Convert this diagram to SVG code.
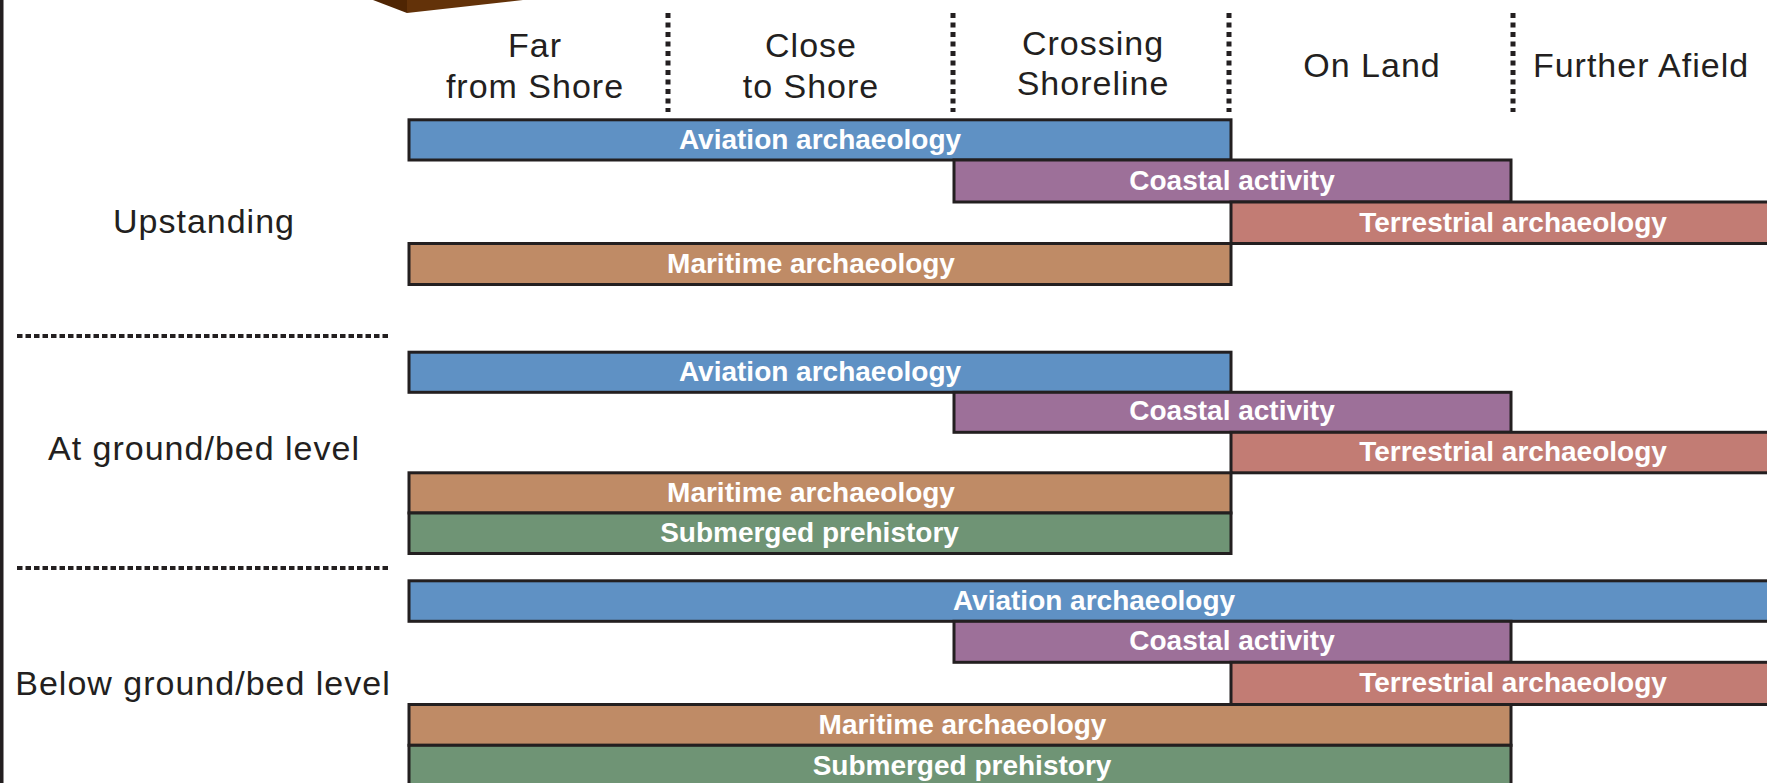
<svg xmlns="http://www.w3.org/2000/svg" width="1767" height="783" viewBox="0 0 1767 783">
<style>
.hdr{font-family:"Liberation Sans",Arial,sans-serif;font-size:34px;letter-spacing:1px;fill:#231f20;text-anchor:middle}
.lbl{font-family:"Liberation Sans",Arial,sans-serif;font-size:28px;font-weight:bold;fill:#ffffff;text-anchor:middle}
.bar{stroke:#231f20;stroke-width:3}
.av{fill:#5f91c4}
.co{fill:#9d7099}
.te{fill:#c27c74}
.ma{fill:#bf8b66}
.su{fill:#6f9475}
.vdot{stroke:#231f20;stroke-width:5;stroke-dasharray:5 4.5;fill:none}
.hdot{stroke:#231f20;stroke-width:4;stroke-dasharray:5.5 3;fill:none}
</style>
<rect x="0" y="0" width="1767" height="783" fill="#ffffff"/>
<rect x="0" y="0" width="3.5" height="783" fill="#231f20"/>
<g id="topshape">
<polygon points="373,0 407,13 407,0" fill="#4f2503"/>
<polygon points="407,0 407,13 523,0" fill="#633209"/>
</g>
<g id="connectors">
<line class="vdot" x1="668" y1="13" x2="668" y2="112"/>
<line class="vdot" x1="953" y1="13" x2="953" y2="112"/>
<line class="vdot" x1="1229" y1="13" x2="1229" y2="112"/>
<line class="vdot" x1="1513" y1="13" x2="1513" y2="112"/>
<line class="hdot" x1="17" y1="336" x2="388" y2="336"/>
<line class="hdot" x1="17" y1="568" x2="388" y2="568"/>
</g>
<g id="headers">
<g id="h-far"><text class="hdr" x="535" y="57">Far</text><text class="hdr" x="535" y="98">from Shore</text></g>
<g id="h-close"><text class="hdr" x="811" y="57">Close</text><text class="hdr" x="811" y="98">to Shore</text></g>
<g id="h-crossing"><text class="hdr" x="1093" y="55">Crossing</text><text class="hdr" x="1093" y="95">Shoreline</text></g>
<g id="h-onland"><text class="hdr" x="1372" y="77">On Land</text></g>
<g id="h-further"><text class="hdr" x="1641" y="77">Further Afield</text></g>
</g>
<g id="rowlabels">
<text id="r-upstanding" class="hdr" x="204" y="233">Upstanding</text>
<text id="r-ground" class="hdr" x="204" y="460">At ground/bed level</text>
<text id="r-below" class="hdr" x="203" y="695">Below ground/bed level</text>
</g>
<g id="row1">
<g id="r1-aviation"><rect class="bar av" x="409" y="119.8" width="822" height="40.2"/><text class="lbl" x="820" y="149">Aviation archaeology</text></g>
<g id="r1-coastal"><rect class="bar co" x="954" y="160" width="557" height="42"/><text class="lbl" x="1232" y="190">Coastal activity</text></g>
<g id="r1-terrestrial"><rect class="bar te" x="1231" y="202" width="570" height="41.5"/><text class="lbl" x="1513" y="232">Terrestrial archaeology</text></g>
<g id="r1-maritime"><rect class="bar ma" x="409" y="243.5" width="822" height="41"/><text class="lbl" x="811" y="273">Maritime archaeology</text></g>
</g>
<g id="row2">
<g id="r2-aviation"><rect class="bar av" x="409" y="352.2" width="822" height="40.1"/><text class="lbl" x="820" y="381">Aviation archaeology</text></g>
<g id="r2-coastal"><rect class="bar co" x="954" y="392.3" width="557" height="40"/><text class="lbl" x="1232" y="420">Coastal activity</text></g>
<g id="r2-terrestrial"><rect class="bar te" x="1231" y="432.3" width="570" height="40.5"/><text class="lbl" x="1513" y="461">Terrestrial archaeology</text></g>
<g id="r2-maritime"><rect class="bar ma" x="409" y="472.8" width="822" height="40.2"/><text class="lbl" x="811" y="502">Maritime archaeology</text></g>
<g id="r2-submerged"><rect class="bar su" x="409" y="513" width="822" height="40.5"/><text class="lbl" x="809.5" y="542">Submerged prehistory</text></g>
</g>
<g id="row3">
<g id="r3-aviation"><rect class="bar av" x="409" y="580.8" width="1380" height="40.5"/><text class="lbl" x="1094" y="610">Aviation archaeology</text></g>
<g id="r3-coastal"><rect class="bar co" x="954" y="621.3" width="557" height="41"/><text class="lbl" x="1232" y="650">Coastal activity</text></g>
<g id="r3-terrestrial"><rect class="bar te" x="1231" y="662.3" width="570" height="42.2"/><text class="lbl" x="1513" y="692">Terrestrial archaeology</text></g>
<g id="r3-maritime"><rect class="bar ma" x="409" y="704.5" width="1102" height="40.8"/><text class="lbl" x="962.5" y="734">Maritime archaeology</text></g>
<g id="r3-submerged"><rect class="bar su" x="409" y="745.3" width="1102" height="45"/><text class="lbl" x="962" y="775">Submerged prehistory</text></g>
</g>
</svg>
